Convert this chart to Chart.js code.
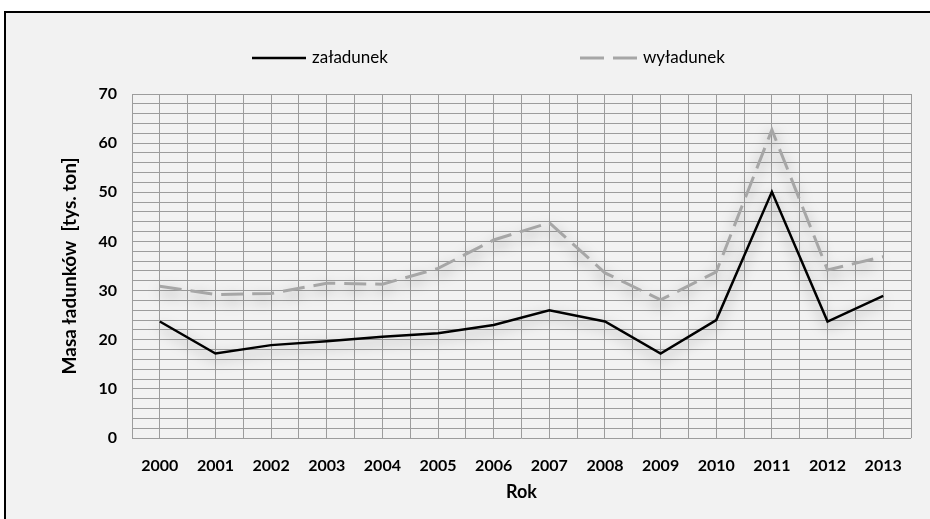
<!DOCTYPE html>
<html><head><meta charset="utf-8">
<script src="https://cdn.jsdelivr.net/npm/chart.js@4/dist/chart.umd.min.js"></script>
<style>
html,body{margin:0;padding:0;background:#fff;overflow:hidden;width:930px;height:519px;}
#frame{position:absolute;left:4px;top:11px;width:940px;height:520px;border:2px solid #000;background:#f2f2f2;}
#c{position:absolute;left:0;top:0;}
</style></head><body>
<div id="frame"></div>
<canvas id="c" width="930" height="519"></canvas>
<script>
const categories = ['2000','2001','2002','2003','2004','2005','2006','2007','2008','2009','2010','2011','2012','2013'];
const zaladunek = [23.7,17.2,18.9,19.7,20.6,21.3,23.0,26.0,23.7,17.2,24.0,50.1,23.7,28.9];
const wyladunek = [30.9,29.2,29.4,31.5,31.3,34.5,40.3,43.8,33.6,28.1,33.8,62.7,34.2,36.9];
const seriesNames = ['załadunek','wyładunek'];
const yTickLabels = ['0','10','20','30','40','50','60','70'];
const xTitle = 'Rok';
const yTitle = 'Masa ładunków  [tys. ton]';

const toPoints = arr => arr.map((v,i)=>({x:i,y:v}));

const shadowPlugin = {
  id:'shadow',
  beforeDatasetDraw(chart){
    const ctx = chart.ctx; ctx.save();
    ctx.shadowColor='rgba(0,0,0,0.4)'; ctx.shadowBlur=14; ctx.shadowOffsetX=0; ctx.shadowOffsetY=5;
  },
  afterDatasetDraw(chart){ chart.ctx.restore(); }
};

const legendPlugin = {
  id:'customLegend',
  afterDraw(chart){
    const ctx = chart.ctx;
    const slots = [{x:252,w:54},{x:580,w:57}];
    const y = 58;
    chart.data.datasets.forEach((ds,i)=>{
      const s = slots[i];
      ctx.save();
      ctx.strokeStyle = ds.borderColor; ctx.lineWidth = ds.borderWidth;
      ctx.setLineDash(ds.borderDash ? [24,9] : []);
      ctx.beginPath(); ctx.moveTo(s.x,y); ctx.lineTo(s.x+s.w,y); ctx.stroke();
      ctx.setLineDash([]);
      ctx.fillStyle='#000'; ctx.font='17px Lato'; ctx.textBaseline='middle'; ctx.textAlign='left';
      ctx.fillText(ds.label, s.x+s.w+6, y);
      ctx.restore();
    });
  }
};

new Chart(document.getElementById('c'), {
  type:'line',
  data:{datasets:[
    {label:seriesNames[0], data:toPoints(zaladunek), borderColor:'#000000', borderWidth:2.5, pointRadius:0, tension:0, fill:false},
    {label:seriesNames[1], data:toPoints(wyladunek), borderColor:'#a6a6a6', borderWidth:3, borderDash:[22,9], pointRadius:0, tension:0, fill:false}
  ]},
  options:{
    responsive:false, animation:false, devicePixelRatio:1,
    layout:{padding:{left:0,right:19,top:94,bottom:0}},
    plugins:{legend:{display:false}, tooltip:{enabled:false}},
    scales:{
      x:{type:'linear', min:-0.5, max:13.5,
        afterBuildTicks(s){ const t=[]; for(let v=-0.5; v<=13.5001; v+=0.5) t.push({value:v}); s.ticks=t; },
        afterFit(s){ s.height=81; },
        grid:{color:'#9c9c9c', lineWidth:1, drawTicks:false},
        border:{display:false},
        ticks:{autoSkip:false, maxRotation:0, padding:18, color:'#000', font:{family:'Lato', size:16, weight:'bold'},
          callback:(v)=> Number.isInteger(v) && v>=0 && v<categories.length ? categories[v] : ''},
        title:{display:true, text:xTitle, color:'#000', font:{family:'Lato', size:18, weight:'bold'}, padding:{top:4,bottom:16}}
      },
      y:{min:0, max:70,
        afterBuildTicks(s){ const t=[]; for(let v=0; v<=70; v+=2) t.push({value:v}); s.ticks=t; },
        afterFit(s){ s.width=132; },
        grid:{color:'#9c9c9c', lineWidth:1, drawTicks:false},
        border:{display:false},
        ticks:{autoSkip:false, padding:15, color:'#000', font:{family:'Lato', size:16, weight:'bold'},
          callback:(v)=> v%10===0 ? yTickLabels[v/10] : ''},
        title:{display:true, text:yTitle, color:'#000', font:{family:'Lato', size:19, weight:'bold'}, padding:{top:58,bottom:0}}
      }
    }
  },
  plugins:[shadowPlugin, legendPlugin]
});
</script>
</body></html>
